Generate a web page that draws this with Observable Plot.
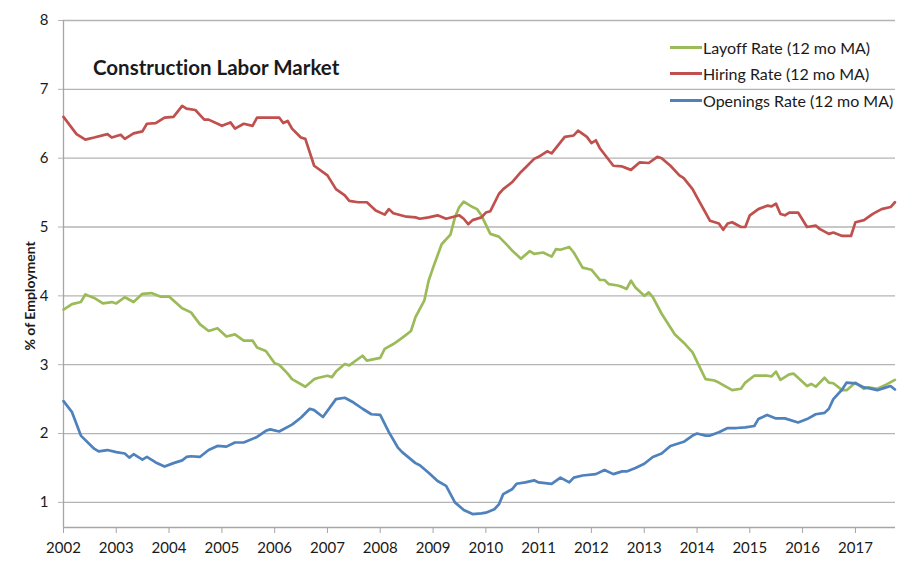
<!DOCTYPE html>
<html>
<head>
<meta charset="utf-8">
<script src="https://cdn.jsdelivr.net/npm/d3@7"></script>
<script src="https://cdn.jsdelivr.net/npm/@observablehq/plot@0.6"></script>
<style>
  html, body { margin: 0; padding: 0; background: #fff; }
  #wrap { position: relative; width: 908px; height: 561px; font-family: Lato, "Open Sans", sans-serif; color: #1a1a1a; font-variant-ligatures: none; }
  #title { position: absolute; left: 93px; top: 55px; font-size: 20.5px; font-weight: bold; white-space: nowrap; }
  #legend { position: absolute; left: 670px; top: 34px; font-size: 16px; }
  .row { display: flex; align-items: center; height: 26.5px; white-space: nowrap; }
  .sw { width: 32px; height: 2.6px; margin-right: 1px; }
  svg text { font-variant-ligatures: none; }
</style>
</head>
<body>
<div id="wrap">
  <div id="chart"></div>
  <div id="title">Construction Labor Market</div>
  <div id="legend"></div>
</div>
<script>
const seriesNames = ["Layoff Rate (12 mo MA)", "Hiring Rate (12 mo MA)", "Openings Rate (12 mo MA)"];
const seriesColors = ["#9bbb59", "#c0504d", "#4f81bd"];
const yTicks = [1, 2, 3, 4, 5, 6, 7, 8];
const yAxisTitle = "% of Employment";

const hiringDates = ["2002-01","2002-04","2002-06","2002-08","2002-11","2002-12","2003-02","2003-03","2003-05","2003-07","2003-08","2003-10","2003-12","2004-02","2004-04","2004-05","2004-07","2004-09","2004-10","2005-01","2005-03","2005-04","2005-06","2005-08","2005-09","2005-12","2006-02","2006-03","2006-04","2006-05","2006-07","2006-08","2006-10","2007-01","2007-03","2007-05","2007-06","2007-08","2007-10","2007-12","2008-02","2008-03","2008-04","2008-07","2008-09","2008-10","2008-12","2009-02","2009-04","2009-07","2009-08","2009-09","2009-10","2009-12","2010-01","2010-02","2010-04","2010-05","2010-07","2010-09","2010-10","2010-12","2011-01","2011-03","2011-04","2011-07","2011-09","2011-10","2011-12","2012-01","2012-02","2012-03","2012-06","2012-08","2012-10","2012-12","2013-02","2013-04","2013-05","2013-07","2013-09","2013-10","2013-12","2014-01","2014-04","2014-06","2014-07","2014-08","2014-09","2014-11","2014-12","2015-01","2015-03","2015-05","2015-06","2015-07","2015-08","2015-09","2015-10","2015-12","2016-02","2016-04","2016-05","2016-07","2016-08","2016-10","2016-12","2017-01","2017-03","2017-05","2017-07","2017-09","2017-10"];
const hiringValues = [6.60,6.35,6.27,6.30,6.35,6.30, 6.34,6.28,6.36,6.39,6.50,6.51,6.59, 6.60,6.76,6.72,6.70,6.56,6.56, 6.47,6.52,6.43,6.50,6.47,6.59,6.59, 6.59,6.51,6.54,6.43,6.30,6.28,5.89, 5.75,5.55,5.46,5.38,5.36,5.36,5.24, 5.18,5.26,5.20,5.15,5.14,5.12,5.14, 5.17,5.12,5.17,5.12,5.04,5.10,5.14, 5.21,5.23,5.48,5.55,5.65,5.80,5.86,5.99, 6.02,6.10,6.07,6.31,6.33,6.40,6.31, 6.22,6.26,6.14,5.89,5.88,5.83,5.94, 5.93,6.02,6.00,5.89,5.75,5.71,5.55, 5.43,5.09,5.05,4.96,5.05,5.07,5.00,5.00, 5.17,5.26,5.31,5.30,5.34,5.19,5.17,5.21,5.21, 5.00,5.02,4.97,4.90,4.92,4.87,4.87, 5.07,5.10,5.19,5.26,5.29,5.36];

const layoffDates = ["2002-01","2002-03","2002-05","2002-06","2002-08","2002-10","2002-12","2003-01","2003-03","2003-05","2003-07","2003-09","2003-11","2004-01","2004-04","2004-06","2004-08","2004-10","2004-12","2005-02","2005-04","2005-06","2005-08","2005-09","2005-11","2006-01","2006-02","2006-04","2006-05","2006-08","2006-10","2006-11","2007-01","2007-02","2007-03","2007-05","2007-06","2007-09","2007-10","2008-01","2008-02","2008-04","2008-06","2008-08","2008-09","2008-11","2008-12","2009-01","2009-03","2009-05","2009-06","2009-07","2009-08","2009-10","2009-11","2009-12","2010-02","2010-04","2010-06","2010-07","2010-09","2010-11","2010-12","2011-02","2011-04","2011-05","2011-06","2011-08","2011-09","2011-11","2012-01","2012-03","2012-04","2012-05","2012-07","2012-08","2012-09","2012-10","2012-11","2013-01","2013-02","2013-03","2013-05","2013-07","2013-08","2013-10","2013-12","2014-02","2014-03","2014-05","2014-06","2014-09","2014-11","2014-12","2015-02","2015-05","2015-06","2015-07","2015-08","2015-10","2015-11","2016-02","2016-03","2016-04","2016-06","2016-07","2016-08","2016-10","2016-11","2017-01","2017-03","2017-04","2017-06","2017-08","2017-10"];
const layoffValues = [3.80,3.88,3.91,4.02,3.97,3.89,3.91, 3.89,3.98,3.91,4.03,4.04,3.99, 3.99,3.82,3.76,3.59,3.49,3.53, 3.41,3.44,3.35,3.35,3.25,3.20, 3.02,3.00,2.87,2.79,2.68,2.79,2.81, 2.84,2.82,2.90,3.01,2.99,3.13,3.06, 3.10,3.23,3.30,3.39,3.49,3.69,3.93,4.22, 4.41,4.75,4.89,5.14,5.29,5.37,5.29,5.26,5.17, 4.90,4.86,4.73,4.66,4.54,4.65,4.61, 4.63,4.57,4.68,4.67,4.71,4.63,4.41, 4.38,4.23,4.23,4.17,4.15,4.13,4.10,4.22,4.12, 4.00,4.05,3.98,3.74,3.54,3.44,3.32,3.18, 2.91,2.79,2.77,2.74,2.63,2.65,2.74, 2.84,2.84,2.83,2.90,2.78,2.86,2.87, 2.69,2.72,2.68,2.81,2.74,2.73,2.63,2.63, 2.74,2.65,2.67,2.65,2.71,2.78];

const openingsDates = ["2002-01","2002-03","2002-05","2002-08","2002-09","2002-11","2003-01","2003-03","2003-04","2003-05","2003-07","2003-08","2003-10","2003-12","2004-02","2004-04","2004-05","2004-06","2004-08","2004-10","2004-12","2005-02","2005-04","2005-06","2005-09","2005-11","2005-12","2006-02","2006-05","2006-07","2006-09","2006-10","2006-12","2007-03","2007-05","2007-07","2007-09","2007-11","2008-01","2008-03","2008-05","2008-06","2008-09","2008-10","2008-12","2009-02","2009-04","2009-06","2009-08","2009-10","2009-12","2010-01","2010-03","2010-04","2010-05","2010-07","2010-08","2010-10","2010-12","2011-01","2011-04","2011-06","2011-08","2011-09","2011-11","2012-02","2012-04","2012-06","2012-08","2012-09","2012-11","2013-01","2013-03","2013-05","2013-07","2013-10","2013-12","2014-01","2014-03","2014-04","2014-06","2014-08","2014-10","2014-12","2015-02","2015-03","2015-05","2015-07","2015-09","2015-12","2016-02","2016-04","2016-06","2016-07","2016-08","2016-10","2016-11","2017-01","2017-03","2017-04","2017-06","2017-08","2017-09","2017-10"];
const openingsValues = [2.47,2.31,1.97,1.78,1.74,1.76, 1.73,1.71,1.65,1.70,1.62,1.66,1.58,1.52, 1.57,1.61,1.66,1.67,1.66,1.76,1.82, 1.81,1.87,1.87,1.95,2.04,2.06, 2.03,2.13,2.23,2.36,2.34,2.24, 2.50,2.52,2.45,2.36,2.28, 2.27,2.02,1.80,1.73,1.57,1.54,1.43, 1.31,1.24,1.00,0.89,0.83,0.84, 0.85,0.90,0.97,1.12,1.19,1.27,1.29,1.32, 1.29,1.27,1.36,1.29,1.36,1.39, 1.41,1.47,1.41,1.45,1.45,1.50, 1.56,1.66,1.71,1.82,1.88,1.97, 2.00,1.97,1.97,2.02,2.08,2.08,2.09, 2.11,2.21,2.27,2.22,2.22,2.16, 2.21,2.28,2.30,2.36,2.50,2.64,2.74, 2.73,2.67,2.66,2.63,2.67,2.69,2.64];

const parse = d3.utcParse("%Y-%m");
const seriesDates = [layoffDates, hiringDates, openingsDates];
const seriesValues = [layoffValues, hiringValues, openingsValues];
const rows = seriesNames.flatMap((name, i) =>
  seriesDates[i].map((d, j) => ({series: name, date: parse(d), value: seriesValues[i][j]}))
);

const xDomain = [new Date(Date.UTC(2002, 0, 1)), new Date(Date.UTC(2017, 9, 5))];
const yDomain = [0.635, 8];
const xTicks = d3.range(2002, 2018).map(y => new Date(Date.UTC(y, 0, 1)));
const gridColor = "#b4b4b4";
const axisColor = "#a6a6a6";

const chart = Plot.plot({
  width: 908,
  height: 561,
  marginLeft: 63,
  marginRight: 13,
  marginTop: 20,
  marginBottom: 34,
  style: {fontFamily: "Lato, 'Open Sans', sans-serif", fontSize: "15px", color: "#1a1a1a", background: "white"},
  x: {type: "utc", domain: xDomain},
  y: {domain: yDomain},
  color: {domain: seriesNames, range: seriesColors},
  marks: [
    Plot.gridY(yTicks, {stroke: gridColor, strokeOpacity: 1, strokeWidth: 1.3}),
    Plot.axisY(yTicks, {tickSize: 5, tickPadding: 10, stroke: gridColor, strokeOpacity: 1, label: null, tickFormat: d3.format("d"), fontSize: 15}),
    Plot.axisX(xTicks, {tickSize: 6, tickPadding: 9, stroke: axisColor, strokeOpacity: 1, label: null, tickFormat: d3.utcFormat("%Y"), fontSize: 15}),
    Plot.ruleX([xDomain[0]], {stroke: axisColor, strokeWidth: 1.3}),
    Plot.ruleY([yDomain[0]], {stroke: axisColor, strokeWidth: 1.3}),
    Plot.line(rows, {x: "date", y: "value", z: "series", stroke: "series", strokeWidth: 2.7, curve: "linear"}),
    Plot.text([yAxisTitle], {frameAnchor: "left", y: [4.0], dx: -33, rotate: -90, textAnchor: "middle", fontWeight: "bold", fontSize: 14, fill: "#1a1a1a"})
  ]
});
document.getElementById("chart").appendChild(chart);

const legend = document.getElementById("legend");
seriesNames.forEach((name, i) => {
  const row = document.createElement("div");
  row.className = "row";
  const sw = document.createElement("div");
  sw.className = "sw";
  sw.style.background = seriesColors[i];
  const label = document.createElement("span");
  label.textContent = name;
  row.appendChild(sw);
  row.appendChild(label);
  legend.appendChild(row);
});
</script>
</body>
</html>
